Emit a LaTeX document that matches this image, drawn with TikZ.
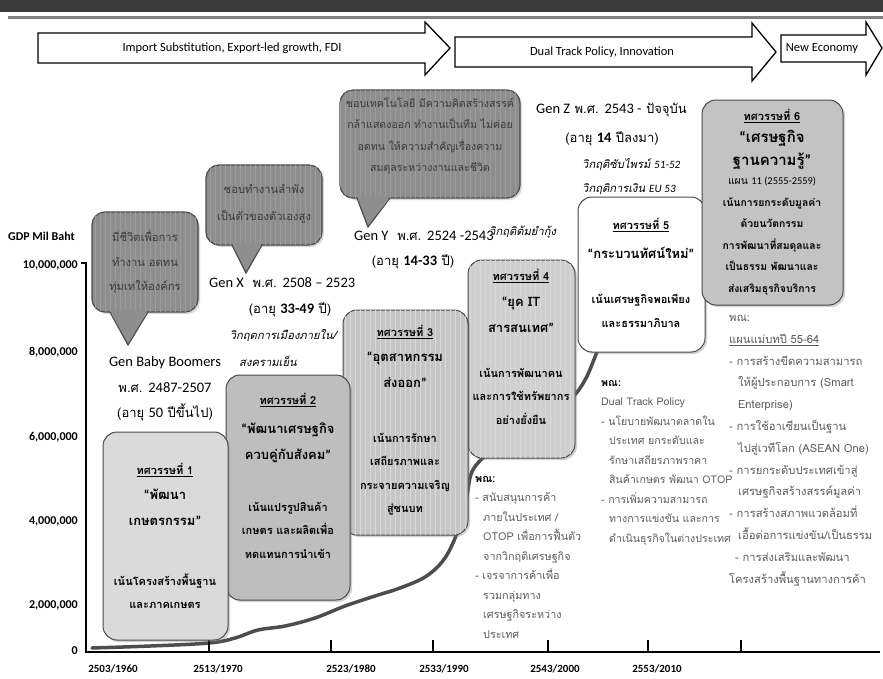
\documentclass[tikz,border=0pt]{standalone}
\usepackage{fontspec}
\setmainfont[Script=Thai]{Loma}
\newfontfamily\lat{Carlito}
\usetikzlibrary{shadows,patterns.meta}
\definecolor{bandgray}{HTML}{3B3B3B}
\definecolor{rulegray}{HTML}{808080}
\definecolor{edgegray}{HTML}{4A4A4A}
\definecolor{boxA}{HTML}{DADADA}
\definecolor{boxB}{HTML}{BEBEBE}
\definecolor{boxC}{HTML}{C6C6C6}
\definecolor{boxD}{HTML}{CFCFCF}
\definecolor{boxF}{HTML}{C3C3C3}
\definecolor{bubblegray}{HTML}{8E8E8E}
\definecolor{stripegray}{HTML}{9C9C9C}
\definecolor{stripelight}{HTML}{D8D8D8}
\definecolor{curvegray}{HTML}{4D4D4D}
\definecolor{listgray}{HTML}{5C5C5C}
\definecolor{bubbletext}{HTML}{3A3A3A}
\tikzset{
  arrowshape/.style={draw=black, fill=white, line width=1.3pt, line join=miter},
  arrtext/.style={font=\lat\fontsize{12.5}{14}\selectfont, inner sep=0pt},
  ylab/.style={font=\lat\bfseries\fontsize{12}{14}\selectfont, inner sep=0pt},
  xlab/.style={font=\lat\bfseries\fontsize{11}{13}\selectfont, inner sep=0pt},
  decbox/.style={rounded corners=14pt, draw=edgegray, line width=1pt,
    drop shadow={shadow xshift=2pt, shadow yshift=-2pt, opacity=0.35}},
  stripes/.style={postaction={pattern={Lines[angle=90,distance=5pt,line width=0.8pt]}, pattern color=#1}},
  bubblebox/.style={rounded corners=13pt, draw=edgegray, line width=1.2pt, fill=bubblegray,
    drop shadow={shadow xshift=2pt, shadow yshift=-2pt, opacity=0.3}},
  tailedge/.style={draw=edgegray, line width=1.2pt, line join=miter},
  bubtext/.style={font=\fontsize{11.2}{24.5}\selectfont, text=bubbletext, align=center, inner sep=0pt},
  ttl/.style={font=\fontsize{11}{13}\selectfont\bfseries, inner sep=0pt},
  quo/.style={font=\fontsize{13}{26}\selectfont\bfseries, align=center, inner sep=0pt},
  bod/.style={font=\fontsize{11}{23.5}\selectfont\bfseries, align=center, inner sep=0pt},
  genlab/.style={font=\fontsize{13}{15}\selectfont, inner sep=0pt},
  crisis/.style={font=\fontsize{11.2}{13}\selectfont\itshape, inner sep=0pt},
  listtxt/.style={text=listgray, align=left, inner sep=0pt},
  curveline/.style={draw=curvegray, line width=3.5pt, line cap=round, line join=round}
}
\newcommand\genlat[1]{{\lat\fontsize{14.5}{16}\selectfont #1}}
\begin{document}
\begin{tikzpicture}[x=1pt,y=-1pt]
\useasboundingbox (0,0) rectangle (883,678);
\fill[white] (0,0) rectangle (883,678);

% header band
\fill[bandgray] (0,0) rectangle (883,12);
\draw[rulegray, line width=3pt] (8,17) -- (883,17);

% phase arrows
\draw[arrowshape] (38,33) -- (425,33) -- (425,22) -- (450,48) -- (425,75) -- (425,63) -- (38,63) -- cycle;
\node[arrtext] (a1) at (232,48) {Import Substitution, Export-led growth, FDI};
\draw[arrowshape] (455,37) -- (752,37) -- (752,23) -- (776,52) -- (752,81) -- (752,67) -- (455,67) -- cycle;
\node[arrtext] (a2) at (602,52) {Dual Track Policy, Innovation};
\draw[arrowshape] (781,35) -- (866,35) -- (866,22) -- (882,48) -- (866,75) -- (866,62) -- (781,62) -- cycle;
\node[arrtext] (a3) at (822,48) {New Economy};

% y labels
\node[ylab, anchor=west] (gdp) at (8,236) {GDP Mil Baht};
\node[ylab, anchor=east] (y10) at (78,265) {10,000,000};
\node[ylab, anchor=east] (y8) at (78,352) {8,000,000};
\node[ylab, anchor=east] (y6) at (78,437) {6,000,000};
\node[ylab, anchor=east] (y4) at (78,521) {4,000,000};
\node[ylab, anchor=east] (y2) at (78,605) {2,000,000};
\node[ylab, anchor=east] (y0) at (78,651) {0};

% GDP curve
\draw[curveline] plot[smooth, tension=0.6] coordinates {(92,648) (150,646) (209,643) (235,638) (258,630) (285,626) (315,618) (345,606) (375,596) (400,588) (425,577) (442,562) (453,543) (461,520) (467,495) (474,468) (500,445) (540,425) (570,400) (585,380) (597,352) (610,320)};

% axes
\draw[line width=2.5pt] (86,262) -- (86,653);
\draw[line width=2pt] (81,263) -- (86,263);
\draw[line width=2.5pt] (85,652) -- (880,652);
\foreach \x in {209,331,433,548,648,741} \draw[line width=1.8pt] (\x,640) -- (\x,652);
\node[xlab] (x1) at (113,669) {2503/1960};
\node[xlab] (x2) at (218,669) {2513/1970};
\node[xlab] (x3) at (351,669) {2523/1980};
\node[xlab] (x4) at (444,669) {2533/1990};
\node[xlab] (x5) at (555,669) {2543/2000};
\node[xlab] (x6) at (657,669) {2553/2010};

% bubble Baby Boomers
\path[bubblebox, stripes=stripegray] (92,212) rectangle (198,312);
\fill[bubblegray] (110,310) -- (128,345) -- (148,310) -- cycle;
\draw[tailedge] (110,312) -- (128,345) -- (148,312);
\node[bubtext] (bbt) at (145,262) {มีชีวิตเพื่อการ\\ทำงาน อดทน\\ทุ่มเทให้องค์กร};
\node[genlab] (gbb1) at (165,363) {\genlat{Gen Baby Boomers}};
\node[genlab] (gbb2) at (165,388) {พ.ศ. \genlat{2487-2507}};
\node[genlab] (gbb3) at (165,412) {(อายุ \genlat{50} ปีขึ้นไป)};

% bubble Gen X
\path[bubblebox, stripes=stripegray] (206,165) rectangle (322,245);
\fill[bubblegray] (232,243) -- (246,273) -- (262,243) -- cycle;
\draw[tailedge] (232,245) -- (246,273) -- (262,245);
\node[bubtext, font=\fontsize{11.2}{27}\selectfont] (bxt) at (264,204) {ชอบทำงานลำพัง\\เป็นตัวของตัวเองสูง};
\node[genlab, anchor=west] (gx1) at (209,283) {\genlat{Gen X}\ \ พ.ศ. \genlat{2508 – 2523}};
\node[genlab] (gx2) at (290,310) {(อายุ {\genlat{\bfseries 33-49}} ปี)};
\node[crisis] (cx1) at (283,336) {วิกฤตการเมืองภายใน/};
\node[crisis] (cx2) at (268,361) {สงครามเย็น};

% bubble Gen Y
\path[bubblebox, stripes=stripegray] (340,90) rectangle (520,198);
\fill[bubblegray] (357,196) -- (368,227) -- (390,196) -- cycle;
\draw[tailedge] (357,198) -- (368,227) -- (390,198);
\node[bubtext, font=\fontsize{10.6}{21.5}\selectfont] (byt) at (430,136) {ชอบเทคโนโลยี มีความคิดสร้างสรรค์\\กล้าแสดงออก ทำงานเป็นทีม ไม่ค่อย\\อดทน ให้ความสำคัญเรื่องความ\\สมดุลระหว่างงานและชีวิต};
\node[genlab, anchor=west] (gy1) at (354,236) {\genlat{Gen Y}\ \ พ.ศ. \genlat{2524 -2543}};
\node[genlab] (gy2) at (413,262) {(อายุ {\genlat{\bfseries 14-33}} ปี)};
\node[crisis, anchor=west] (cy) at (489,232) {วิกฤติต้มยำกุ้ง};

% Gen Z
\node[genlab, anchor=west] (gz1) at (536,110) {\genlat{Gen Z}\ พ.ศ. \genlat{2543 -} ปัจจุบัน};
\node[genlab] (gz2) at (612,139) {(อายุ {\genlat{\bfseries 14}} ปีลงมา)};
\node[crisis, anchor=west] (cz1) at (582,165) {วิกฤติซับไพรม์ {\lat 51-52}};
\node[crisis, anchor=west] (cz2) at (582,189) {วิกฤติการเงิน {\lat EU 53}};

% decade boxes
\path[decbox, fill=white] (578,197) rectangle (705,352);
\node[ttl] (t5) at (641,225) {\underline{ทศวรรษที่ 5}};
\node[quo] (q5) at (641,253) {{\lat“}กระบวนทัศน์ใหม่{\lat”}};
\node[bod] (b5) at (641,311) {เน้นเศรษฐกิจพอเพียง\\และธรรมาภิบาล};

\path[decbox, fill=boxF] (702,100) rectangle (843,305);
\node[ttl] (t6) at (772,116) {\underline{ทศวรรษที่ 6}};
\node[quo, font=\fontsize{15}{23}\selectfont\bfseries] (q6) at (772,150) {{\lat“}เศรษฐกิจ\\ฐานความรู้{\lat”}};
\node[bod, font=\fontsize{10.4}{21.6}\selectfont\bfseries] (b6) at (772,236) {{\mdseries แผน {\lat 11 (2555-2559)}}\\เน้นการยกระดับมูลค่า\\ด้วยนวัตกรรม\\การพัฒนาที่สมดุลและ\\เป็นธรรม พัฒนาและ\\ส่งเสริมธุรกิจบริการ};

\path[decbox, fill=boxD, stripes=stripelight] (468,260) rectangle (575,458);
\node[ttl] (t4) at (521,276) {\underline{ทศวรรษที่ 4}};
\node[quo] (q4) at (521,315) {{\lat“}ยุค IT\\สารสนเทศ{\lat”}};
\node[bod] (b4) at (521,396) {เน้นการพัฒนาคน\\และการใช้ทรัพยากร\\อย่างยั่งยืน};

\path[decbox, fill=boxC, stripes=stripelight] (343,310) rectangle (468,535);
\node[ttl] (t3) at (405,332) {\underline{ทศวรรษที่ 3}};
\node[quo] (q3) at (405,370) {{\lat“}อุตสาหกรรม\\ส่งออก{\lat”}};
\node[bod] (b3) at (405,474) {เน้นการรักษา\\เสถียรภาพและ\\กระจายความเจริญ\\สู่ชนบท};

\path[decbox, fill=boxB] (226,375) rectangle (350,600);
\node[ttl] (t2) at (288,400) {\underline{ทศวรรษที่ 2}};
\node[quo] (q2) at (288,443) {{\lat“}พัฒนาเศรษฐกิจ\\ควบคู่กับสังคม{\lat”}};
\node[bod] (b2) at (288,530) {เน้นแปรรูปสินค้า\\เกษตร และผลิตเพื่อ\\ทดแทนการนำเข้า};

\path[decbox, fill=boxA] (103,432) rectangle (228,640);
\node[ttl] (t1) at (165,470) {\underline{ทศวรรษที่ 1}};
\node[quo] (q1) at (165,507) {{\lat“}พัฒนา\\เกษตรกรรม{\lat”}};
\node[bod] (b1) at (165,591) {เน้นโครงสร้างพื้นฐาน\\และภาคเกษตร};

% policy lists
\node[listtxt, font=\fontsize{10.8}{19.5}\selectfont, anchor=north west] (l4) at (475,476) {{\color{black}\bfseries พณ:}\\- สนับสนุนการค้า\\\hspace*{8pt}ภายในประเทศ /\\\hspace*{8pt}OTOP เพื่อการฟื้นตัว\\\hspace*{8pt}จากวิกฤติเศรษฐกิจ\\- เจรจาการค้าเพื่อ\\\hspace*{8pt}รวมกลุ่มทาง\\\hspace*{8pt}เศรษฐกิจระหว่าง\\\hspace*{8pt}ประเทศ};
\node[listtxt, font=\fontsize{10.6}{19.5}\selectfont, anchor=north west] (l5) at (601,380) {{\color{black}\bfseries พณ:}\\Dual Track Policy\\- นโยบายพัฒนาตลาดใน\\\hspace*{8pt}ประเทศ ยกระดับและ\\\hspace*{8pt}รักษาเสถียรภาพราคา\\\hspace*{8pt}สินค้าเกษตร พัฒนา OTOP\\- การเพิ่มความสามารถ\\\hspace*{8pt}ทางการแข่งขัน และการ\\\hspace*{8pt}ดำเนินธุรกิจในต่างประเทศ};
\node[listtxt, font=\fontsize{11.2}{21.8}\selectfont, anchor=north west] (l6) at (729,315) {พณ:\\\underline{แผนแม่บทปี 55-64}\\- การสร้างขีดความสามารถ\\\hspace*{9pt}ให้ผู้ประกอบการ (Smart\\\hspace*{9pt}Enterprise)\\- การใช้อาเซียนเป็นฐาน\\\hspace*{9pt}ไปสู่เวทีโลก (ASEAN One)\\- การยกระดับประเทศเข้าสู่\\\hspace*{9pt}เศรษฐกิจสร้างสรรค์มูลค่า\\- การสร้างสภาพแวดล้อมที่\\\hspace*{9pt}เอื้อต่อการแข่งขัน/เป็นธรรม\\\hspace*{6pt}- การส่งเสริมและพัฒนา\\โครงสร้างพื้นฐานทางการค้า};
\end{tikzpicture}
\end{document}
